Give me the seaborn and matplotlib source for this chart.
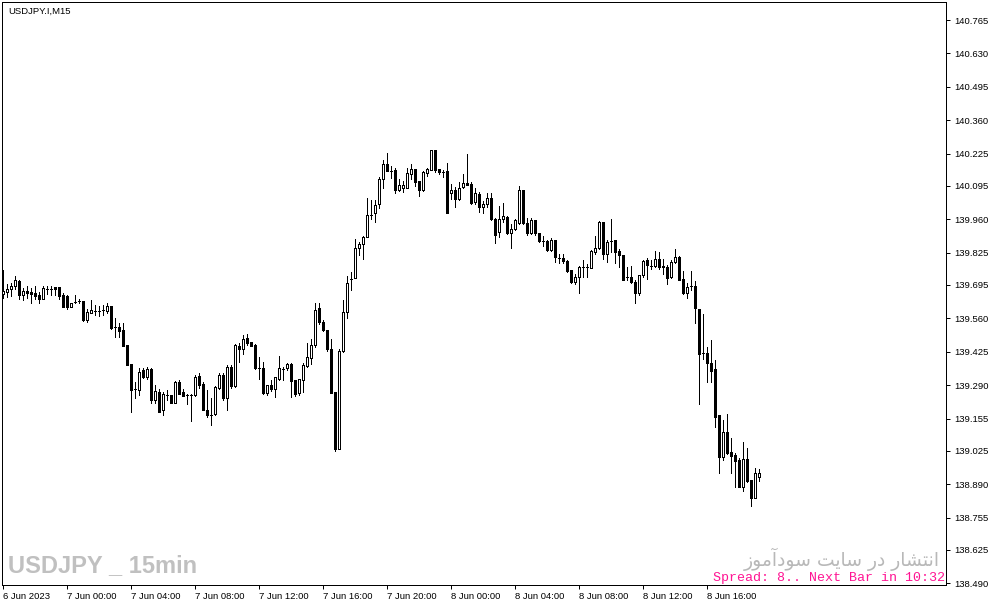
import numpy as np
import pandas as pd
import matplotlib
matplotlib.use("Agg")
import matplotlib.pyplot as plt
import seaborn as sns

# USDJPY M15 candles (one bar per 15 min, first bar 6 Jun 20:00)
opens = [
    139.657, 139.668, 139.677, 139.691, 139.712, 139.654, 139.672, 139.668, 139.661, 139.653,
    139.639, 139.680, 139.680, 139.685, 139.685, 139.654, 139.650, 139.605, 139.627, 139.631,
    139.631, 139.553, 139.583, 139.591, 139.591, 139.594, 139.591, 139.610, 139.526, 139.526,
    139.513, 139.452, 139.375, 139.273, 139.270, 139.353, 139.325, 139.357, 139.230, 139.263,
    139.188, 139.249, 139.249, 139.219, 139.301, 139.261, 139.249, 139.249, 139.249, 139.327,
    139.295, 139.191, 139.171, 139.172, 139.277, 139.331, 139.240, 139.362, 139.287, 139.448,
    139.435, 139.479, 139.463, 139.452, 139.361, 139.358, 139.257, 139.291, 139.273, 139.315,
    139.355, 139.358, 139.375, 139.311, 139.257, 139.311, 139.369, 139.398, 139.452, 139.602,
    139.546, 139.513, 139.435, 139.263, 139.031, 139.428, 139.586, 139.719, 139.722, 139.843,
    139.860, 139.887, 139.977, 139.984, 140.021, 140.121, 140.182, 140.155, 140.158, 140.080,
    140.088, 140.088, 140.145, 140.165, 140.115, 140.078, 140.147, 140.161, 140.240, 140.165,
    140.152, 140.155, 140.067, 140.078, 140.041, 140.091, 140.107, 140.102, 140.031, 140.062,
    140.008, 140.021, 140.048, 139.963, 139.909, 139.963, 139.970, 139.903, 139.923, 139.946,
    140.080, 139.946, 139.905, 139.957, 139.905, 139.873, 139.873, 139.838, 139.876, 139.802,
    139.802, 139.792, 139.755, 139.708, 139.728, 139.766, 139.766, 139.762, 139.828, 139.843,
    139.949, 139.822, 139.873, 139.876, 139.832, 139.815, 139.728, 139.728, 139.708, 139.661,
    139.735, 139.796, 139.771, 139.771, 139.798, 139.771, 139.766, 139.728, 139.789, 139.809,
    139.718, 139.661, 139.690, 139.690, 139.596, 139.421, 139.421, 139.378, 139.354, 139.169,
    138.999, 139.102, 139.021, 139.008, 138.988, 138.880, 138.990, 138.907, 138.833, 138.920,
]
highs = [
    139.755, 139.699, 139.704, 139.731, 139.715, 139.681, 139.691, 139.681, 139.691, 139.668,
    139.691, 139.691, 139.691, 139.688, 139.688, 139.661, 139.654, 139.623, 139.654, 139.637,
    139.631, 139.596, 139.634, 139.614, 139.610, 139.614, 139.623, 139.610, 139.560, 139.540,
    139.540, 139.452, 139.375, 139.303, 139.358, 139.358, 139.363, 139.358, 139.291, 139.273,
    139.263, 139.270, 139.249, 139.306, 139.311, 139.276, 139.253, 139.253, 139.331, 139.340,
    139.304, 139.270, 139.240, 139.286, 139.338, 139.338, 139.371, 139.371, 139.456, 139.461,
    139.493, 139.497, 139.465, 139.456, 139.403, 139.385, 139.291, 139.311, 139.324, 139.408,
    139.364, 139.378, 139.381, 139.311, 139.314, 139.378, 139.461, 139.475, 139.622, 139.622,
    139.553, 139.513, 139.475, 139.263, 139.435, 139.634, 139.731, 139.747, 139.879, 139.869,
    139.893, 140.048, 140.040, 140.038, 140.131, 140.201, 140.230, 140.174, 140.169, 140.121,
    140.115, 140.169, 140.182, 140.165, 140.115, 140.155, 140.169, 140.242, 140.242, 140.165,
    140.161, 140.188, 140.102, 140.091, 140.112, 140.142, 140.226, 140.112, 140.085, 140.071,
    140.035, 140.067, 140.067, 139.967, 140.013, 140.027, 139.973, 139.943, 139.963, 140.094,
    140.080, 139.967, 139.967, 139.957, 139.905, 139.892, 139.876, 139.883, 139.876, 139.820,
    139.822, 139.795, 139.755, 139.739, 139.771, 139.795, 139.781, 139.835, 139.892, 139.954,
    139.950, 139.876, 139.963, 139.876, 139.842, 139.815, 139.766, 139.771, 139.715, 139.735,
    139.796, 139.802, 139.796, 139.833, 139.829, 139.798, 139.775, 139.796, 139.842, 139.812,
    139.751, 139.704, 139.751, 139.712, 139.596, 139.577, 139.443, 139.472, 139.391, 139.170,
    139.149, 139.173, 139.075, 139.015, 138.994, 139.062, 139.035, 138.907, 138.954, 138.950,
]
lows = [
    139.641, 139.645, 139.650, 139.677, 139.637, 139.634, 139.641, 139.623, 139.637, 139.621,
    139.637, 139.658, 139.654, 139.654, 139.637, 139.605, 139.596, 139.605, 139.621, 139.623,
    139.550, 139.546, 139.580, 139.573, 139.569, 139.573, 139.583, 139.517, 139.486, 139.486,
    139.448, 139.371, 139.183, 139.240, 139.249, 139.319, 139.316, 139.219, 139.219, 139.182,
    139.170, 139.230, 139.219, 139.219, 139.253, 139.246, 139.216, 139.145, 139.245, 139.277,
    139.189, 139.161, 139.131, 139.168, 139.273, 139.230, 139.191, 139.277, 139.281, 139.383,
    139.416, 139.452, 139.448, 139.354, 139.316, 139.253, 139.249, 139.268, 139.242, 139.311,
    139.311, 139.351, 139.242, 139.246, 139.249, 139.264, 139.365, 139.376, 139.444, 139.537,
    139.510, 139.429, 139.257, 139.025, 139.031, 139.424, 139.561, 139.674, 139.722, 139.816,
    139.798, 139.887, 139.963, 139.948, 140.004, 140.085, 140.155, 140.129, 140.067, 140.074,
    140.070, 140.088, 140.121, 140.094, 140.054, 140.075, 140.135, 140.158, 140.152, 140.145,
    140.131, 139.986, 140.044, 140.009, 140.038, 140.085, 140.098, 140.024, 140.024, 139.991,
    139.986, 140.009, 139.957, 139.863, 139.888, 139.950, 139.900, 139.846, 139.917, 139.941,
    139.943, 139.896, 139.900, 139.896, 139.869, 139.852, 139.832, 139.832, 139.788, 139.784,
    139.784, 139.748, 139.703, 139.698, 139.661, 139.728, 139.728, 139.762, 139.822, 139.839,
    139.798, 139.788, 139.828, 139.784, 139.768, 139.717, 139.715, 139.703, 139.621, 139.654,
    139.728, 139.721, 139.758, 139.766, 139.758, 139.739, 139.698, 139.725, 139.784, 139.715,
    139.658, 139.641, 139.674, 139.540, 139.215, 139.394, 139.305, 139.305, 139.120, 138.934,
    138.988, 139.012, 138.934, 138.880, 138.880, 138.864, 138.900, 138.802, 138.833, 138.904,
]
closes = [
    139.670, 139.678, 139.691, 139.715, 139.653, 139.670, 139.663, 139.658, 139.650, 139.639,
    139.682, 139.680, 139.680, 139.677, 139.650, 139.605, 139.607, 139.623, 139.627, 139.631,
    139.553, 139.587, 139.594, 139.591, 139.591, 139.594, 139.610, 139.520, 139.526, 139.510,
    139.448, 139.371, 139.270, 139.273, 139.344, 139.325, 139.357, 139.230, 139.265, 139.182,
    139.253, 139.249, 139.219, 139.301, 139.256, 139.246, 139.249, 139.249, 139.322, 139.291,
    139.191, 139.168, 139.171, 139.281, 139.331, 139.240, 139.362, 139.286, 139.452, 139.435,
    139.475, 139.459, 139.448, 139.358, 139.361, 139.257, 139.291, 139.273, 139.322, 139.358,
    139.355, 139.374, 139.308, 139.254, 139.314, 139.371, 139.405, 139.452, 139.594, 139.545,
    139.513, 139.435, 139.259, 139.034, 139.429, 139.586, 139.703, 139.719, 139.843, 139.860,
    139.887, 139.977, 139.977, 140.017, 140.121, 140.182, 140.155, 140.155, 140.080, 140.098,
    140.098, 140.147, 140.165, 140.111, 140.078, 140.150, 140.165, 140.240, 140.158, 140.152,
    140.152, 139.986, 140.080, 140.041, 140.085, 140.107, 140.098, 140.027, 140.067, 140.008,
    140.021, 140.048, 139.962, 139.896, 139.963, 139.973, 139.903, 139.923, 139.957, 140.080,
    139.946, 139.905, 139.957, 139.905, 139.873, 139.873, 139.835, 139.876, 139.806, 139.802,
    139.792, 139.752, 139.708, 139.728, 139.766, 139.766, 139.766, 139.832, 139.846, 139.949,
    139.822, 139.869, 139.873, 139.828, 139.815, 139.717, 139.728, 139.708, 139.661, 139.735,
    139.792, 139.775, 139.771, 139.798, 139.766, 139.766, 139.725, 139.789, 139.807, 139.715,
    139.661, 139.688, 139.690, 139.600, 139.418, 139.421, 139.378, 139.348, 139.163, 139.001,
    139.102, 139.017, 139.004, 138.985, 138.880, 138.990, 138.904, 138.833, 138.936, 138.936,
]

time_ticks = [0, 16, 32, 48, 64, 80, 96, 112, 128, 144, 160, 176]
time_labels = ["6 Jun 2023", "7 Jun 00:00", "7 Jun 04:00", "7 Jun 08:00", "7 Jun 12:00",
               "7 Jun 16:00", "7 Jun 20:00", "8 Jun 00:00", "8 Jun 04:00", "8 Jun 08:00",
               "8 Jun 12:00", "8 Jun 16:00"]
price_labels = ["140.765", "140.630", "140.495", "140.360", "140.225", "140.095", "139.960",
                "139.825", "139.695", "139.560", "139.425", "139.290", "139.155", "139.025",
                "138.890", "138.755", "138.625", "138.490"]

chart_title = "USDJPY.I,M15"
watermark = "USDJPY _ 15min"
# "انتشار در سایت سودآموز" written with presentation forms in visual order (no shaping in matplotlib)
site_text = "\uFEAF\uFEEE\uFEE3\uFE81\uFEA9\uFEEE\uFEB3 \uFE96\uFEF3\uFE8E\uFEB3 \uFEAD\uFEA9 \uFEAD\uFE8E\uFEB8\uFE98\uFEE7\uFE8D"
spread_text = "Spread: 8.. Next Bar in 10:32"

df = pd.DataFrame({"open": opens, "high": highs, "low": lows, "close": closes})
df["bar"] = np.arange(len(df))
df["up"] = df["close"] >= df["open"]

sns.set_theme(style="white")
plt.rcParams["font.family"] = ["Liberation Sans", "DejaVu Sans"]

W, H = 1001, 607
fig = plt.figure(figsize=(W / 100, H / 100), dpi=100)
fig.patch.set_facecolor("white")
ax = fig.add_axes([2 / W, 22 / H, 944 / W, 583 / H])
ax.set_facecolor("white")

# wicks then bodies
ax.vlines(df["bar"], df["low"], df["high"], color="black", lw=0.72, antialiased=False, zorder=2)
ax.bar(df["bar"], df["close"] - df["open"], bottom=df["open"], width=0.5,
       color=np.where(df["up"], "white", "black"), edgecolor="black",
       linewidth=0.72, antialiased=False, zorder=3)

ax.set_xlim(-0.25, 235.75)
ax.set_ylim(138.483, 140.838)

ax.yaxis.tick_right()
ax.set_yticks([float(s) for s in price_labels])
ax.set_yticklabels(price_labels)
ax.set_xticks(time_ticks)
ax.set_xticklabels(time_labels, ha="left")
ax.tick_params(axis="y", right=True, left=False, direction="out", length=3, width=0.72,
               pad=3, labelsize=6.8, colors="black")
ax.tick_params(axis="x", bottom=True, direction="out", length=3, width=0.72,
               pad=2, labelsize=6.8, colors="black")
for sp in ax.spines.values():
    sp.set_color("black")
    sp.set_linewidth(0.72)
ax.grid(False)

fig.text(8 / W, 1 - 11 / H, chart_title, fontsize=6.8, color="black", ha="left", va="center")
fig.text(8 / W, 1 - 566 / H, watermark, fontsize=17, fontweight="heavy", color="#c0c0c0",
         family=["Liberation Sans"], ha="left", va="center")
fig.text(940 / W, 1 - 566 / H, site_text, fontsize=13.5, color="#b8b8b8",
         family=["DejaVu Sans"], ha="right", va="baseline")
fig.text(945 / W, 1 - 578 / H, spread_text, fontsize=9.6, color="#ff1493",
         family=["Liberation Mono", "DejaVu Sans Mono"], ha="right", va="center")

fig.savefig("out.png", dpi=100)
